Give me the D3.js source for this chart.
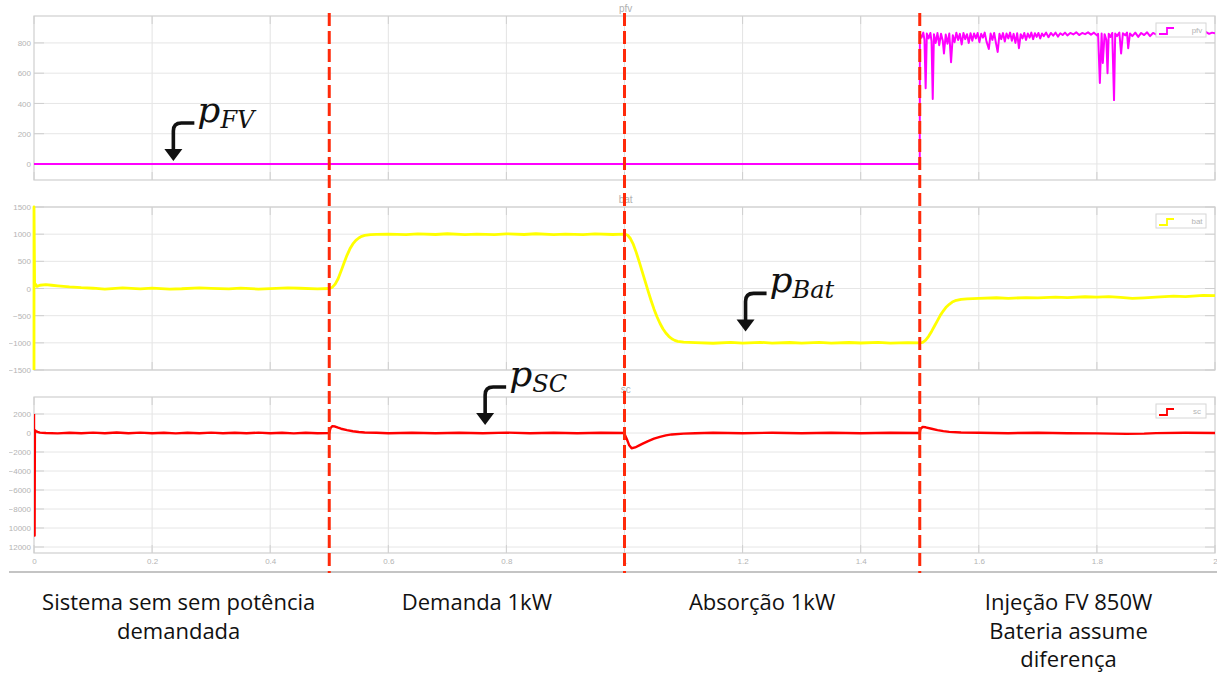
<!DOCTYPE html>
<html>
<head>
<meta charset="utf-8">
<script src="https://cdn.jsdelivr.net/npm/d3@7"></script>
<style>
  html, body { margin: 0; padding: 0; background: #fff; }
  svg { display: block; }
  .tick-lbl { font-family: "Liberation Sans", Arial, sans-serif; font-size: 8px; fill: #b4b4b4; }
  .ptitle { font-family: "Liberation Sans", Arial, sans-serif; font-size: 10px; fill: #b0b0b0; }
  .caption { font-family: "Open Sans", "Noto Sans", sans-serif; font-size: 22px; fill: #111; }
  .math { font-family: "DejaVu Serif", serif; font-style: italic; fill: #111; }
</style>
</head>
<body>
<svg id="chart" width="1217" height="673"></svg>
<script>
// ---- time axis ----
const timeTicks = [0, 0.2, 0.4, 0.6, 0.8, 1, 1.2, 1.4, 1.6, 1.8, 2];
const eventTimes = [0.5, 1.0, 1.5];

// ---- y ticks per scope ----
const pfvTicks = [0, 200, 400, 600, 800];
const batTicks = [-1500, -1000, -500, 0, 500, 1000, 1500];
const scTicks = [-12000, -10000, -8000, -6000, -4000, -2000, 0, 2000];

// ---- PV power [t (s), W] ----
const pfvSamples = [
  [0,0],[1.5,0],[1.5002,860],[1.503,835],[1.506,868],[1.508,820],[1.510,500],[1.512,862],[1.515,830],
  [1.518,866],[1.520,810],[1.522,430],[1.524,858],[1.527,800],[1.530,865],[1.533,785],[1.536,860],
  [1.539,815],[1.541,730],[1.544,855],[1.547,795],[1.550,862],[1.553,673],[1.556,850],[1.559,805],
  [1.562,868],[1.565,820],[1.568,860],[1.571,790],[1.574,866],[1.577,825],[1.580,858],[1.583,800],
  [1.586,864],[1.589,815],[1.592,862],[1.595,830],[1.598,866],[1.601,805],[1.604,860],[1.607,835],
  [1.610,868],[1.613,810],[1.617,760],[1.620,862],[1.623,820],[1.626,866],[1.629,800],[1.632,740],
  [1.635,860],[1.638,825],[1.641,865],[1.644,810],[1.647,862],[1.650,830],[1.653,868],[1.656,815],
  [1.659,860],[1.662,800],[1.665,864],[1.668,765],[1.671,858],[1.674,830],[1.677,866],[1.680,820],
  [1.683,862],[1.686,835],[1.689,868],[1.692,825],[1.695,864],[1.698,840],[1.701,866],[1.704,830],
  [1.707,862],[1.710,845],[1.714,868],[1.718,838],[1.722,866],[1.726,848],[1.730,868],[1.734,842],
  [1.738,864],[1.742,852],[1.746,868],[1.750,850],[1.755,866],[1.760,856],[1.765,870],[1.770,852],
  [1.775,866],[1.780,858],[1.785,870],[1.790,855],[1.795,868],[1.800,850],[1.802,860],[1.805,535],
  [1.808,862],[1.810,667],[1.813,858],[1.816,820],[1.818,600],[1.820,860],[1.823,840],[1.826,866],
  [1.829,422],[1.831,862],[1.834,845],[1.838,868],[1.841,730],[1.844,864],[1.848,850],[1.851,868],
  [1.853,765],[1.856,862],[1.860,845],[1.865,868],[1.870,840],[1.875,866],[1.880,852],[1.885,870],
  [1.890,845],[1.895,866],[1.900,856],[1.905,870],[1.910,850],[1.915,868],[1.920,858],[1.925,872],
  [1.930,855],[1.935,868],[1.940,860],[1.945,872],[1.950,858],[1.955,870],[1.960,862],[1.965,872],
  [1.970,858],[1.975,870],[1.980,864],[1.985,872],[1.990,860],[1.995,868],[2.0,864]
];

// ---- battery power [t (s), W] ----
const batSamples = [
  [0,-1500],[0,1500],[0.001,100],[0.005,40],[0.01,60],[0.02,70],[0.03,60],[0.04,50],[0.06,30],
  [0.08,15],[0.1,5],[0.12,-10],[0.15,10],[0.18,-8],[0.2,8],[0.23,-10],[0.25,-5],[0.28,10],[0.3,2],
  [0.33,-8],[0.35,6],[0.38,-10],[0.4,-2],[0.43,10],[0.45,5],[0.48,-6],[0.5,0],
  [0.505,20],[0.51,80],[0.515,180],[0.52,320],[0.525,470],[0.53,610],[0.535,730],[0.54,820],
  [0.545,885],[0.55,930],[0.555,960],[0.56,978],[0.57,992],[0.58,998],[0.6,1000],[0.63,990],[0.65,1006],
  [0.68,994],[0.7,1008],[0.73,992],[0.75,1002],[0.78,990],[0.8,1006],[0.83,994],[0.85,1008],[0.88,992],
  [0.9,1002],[0.93,992],[0.95,1006],[0.98,994],[1.0,1000],
  [1.005,985],[1.01,920],[1.015,810],[1.02,660],[1.025,490],[1.03,310],[1.035,130],[1.04,-50],
  [1.045,-220],[1.05,-380],[1.055,-520],[1.06,-640],[1.065,-740],[1.07,-820],[1.075,-880],
  [1.08,-925],[1.085,-955],[1.09,-972],[1.1,-988],[1.12,-996],[1.15,-1008],[1.18,-992],[1.2,-1005],
  [1.23,-990],[1.25,-1006],[1.28,-994],[1.3,-1004],[1.33,-992],[1.35,-1006],[1.38,-994],[1.4,-1003],
  [1.43,-990],[1.45,-1004],[1.48,-995],[1.5,-1000],
  [1.505,-990],[1.51,-950],[1.515,-880],[1.52,-790],[1.525,-690],[1.53,-590],[1.535,-490],
  [1.54,-410],[1.545,-340],[1.55,-290],[1.555,-250],[1.56,-225],[1.57,-200],[1.58,-190],
  [1.6,-182],[1.63,-170],[1.65,-180],[1.68,-168],[1.7,-174],[1.73,-160],[1.75,-168],[1.78,-152],
  [1.8,-158],[1.82,-148],[1.84,-165],[1.86,-182],[1.88,-172],[1.9,-160],[1.93,-140],[1.95,-150],
  [1.98,-125],[2.0,-132]
];

// ---- supercapacitor power [t (s), W] ----
const scSamples = [
  [0,2000],[0,-10800],[0.001,-10800],[0.0015,300],[0.003,200],[0.006,120],[0.01,40],[0.02,0],
  [0.04,-40],[0.06,30],[0.08,-30],[0.1,40],[0.12,-20],[0.14,50],[0.16,-30],[0.18,40],[0.2,-20],
  [0.22,30],[0.24,-40],[0.26,20],[0.28,-30],[0.3,40],[0.32,-20],[0.34,30],[0.36,-30],[0.38,40],
  [0.4,-20],[0.42,30],[0.44,-40],[0.46,20],[0.48,-30],[0.5,0],
  [0.502,500],[0.505,720],[0.51,680],[0.515,560],[0.52,450],[0.53,300],[0.54,190],[0.55,110],
  [0.56,60],[0.58,20],[0.6,-20],[0.64,30],[0.68,-30],[0.72,30],[0.76,-20],[0.8,40],[0.84,-30],
  [0.88,30],[0.92,-30],[0.96,20],[1.0,0],
  [1.001,-250],[1.004,-650],[1.008,-1300],[1.012,-1600],[1.018,-1520],[1.025,-1300],[1.03,-1150],
  [1.04,-850],[1.05,-600],[1.06,-400],[1.07,-250],[1.08,-150],[1.1,-60],[1.12,-20],[1.15,20],
  [1.2,-30],[1.25,30],[1.3,-20],[1.35,30],[1.4,-30],[1.45,20],[1.5,0],
  [1.501,400],[1.505,650],[1.51,600],[1.52,450],[1.53,300],[1.54,200],[1.55,120],[1.57,60],
  [1.6,20],[1.65,-20],[1.7,30],[1.75,-20],[1.8,-40],[1.85,-90],[1.88,-60],[1.9,-10],[1.95,20],[2.0,0]
];

// ---- captions below the scopes ----
const captions = [
  { t: 0.245, lines: ["Sistema sem sem potência", "demandada"] },
  { t: 0.75, lines: ["Demanda 1kW"] },
  { t: 1.233, lines: ["Absorção 1kW"] },
  { t: 1.752, lines: ["Injeção FV 850W", "Bateria assume", "diferença"] }
];

const svg = d3.select("#chart");
const x = d3.scaleLinear().domain([0, 2]).range([34, 1215]);

const panels = [
  { name: "pfv", top: 16, bottom: 180, domain: [-106, 978], ticks: pfvTicks, color: "#ff00ff", data: pfvSamples, width: 2 },
  { name: "bat", top: 207, bottom: 370, domain: [-1500, 1500], ticks: batTicks, color: "#ffff00", data: batSamples, width: 2.8 },
  { name: "sc",  top: 397, bottom: 553, domain: [-12630, 3790], ticks: scTicks, color: "#ff0000", data: scSamples, width: 2.4 }
];

const defs = svg.append("defs");
defs.append("clipPath").attr("id", "frameClip")
  .append("rect").attr("x", 9).attr("y", 0).attr("width", 1208).attr("height", 580);

const root = svg.append("g").attr("clip-path", "url(#frameClip)");
const x0 = x.range()[0], x1 = x.range()[1];

panels.forEach((p, i) => {
  const y = d3.scaleLinear().domain(p.domain).range([p.bottom, p.top]);
  p.y = y;
  const g = root.append("g");

  defs.append("clipPath").attr("id", "clip" + i)
    .append("rect").attr("x", x0).attr("y", p.top).attr("width", x1 - x0).attr("height", p.bottom - p.top);

  // grid
  g.append("g").selectAll("line.gx").data(timeTicks.slice(1, -1)).join("line")
    .attr("x1", d => x(d)).attr("x2", d => x(d)).attr("y1", p.top).attr("y2", p.bottom)
    .attr("stroke", "#e3e3e3").attr("stroke-width", 1);
  g.append("g").selectAll("line.gy").data(p.ticks).join("line")
    .attr("x1", x0).attr("x2", x1).attr("y1", d => y(d)).attr("y2", d => y(d))
    .attr("stroke", "#e6e6e6").attr("stroke-width", 1);

  // inner tick marks
  g.append("g").selectAll("line").data(timeTicks).join("line")
    .attr("x1", d => x(d)).attr("x2", d => x(d)).attr("y1", p.bottom).attr("y2", p.bottom - 8)
    .attr("stroke", "#cfcfcf");
  g.append("g").selectAll("line").data(timeTicks).join("line")
    .attr("x1", d => x(d)).attr("x2", d => x(d)).attr("y1", p.top).attr("y2", p.top + 8)
    .attr("stroke", "#cfcfcf");
  g.append("g").selectAll("line").data(p.ticks).join("line")
    .attr("x1", x0).attr("x2", x0 + 10).attr("y1", d => y(d)).attr("y2", d => y(d))
    .attr("stroke", "#cfcfcf");
  g.append("g").selectAll("line").data(p.ticks).join("line")
    .attr("x1", x1 - 10).attr("x2", x1).attr("y1", d => y(d)).attr("y2", d => y(d))
    .attr("stroke", "#cfcfcf");

  // frame
  g.append("rect").attr("x", x0).attr("y", p.top).attr("width", x1 - x0).attr("height", p.bottom - p.top)
    .attr("fill", "none").attr("stroke", "#cfcfcf").attr("stroke-width", 1.2);

  // y axis labels
  const ax = d3.axisLeft(y).tickValues(p.ticks).tickSize(0).tickPadding(3).tickFormat(d3.format("d"));
  const axg = g.append("g").attr("transform", `translate(${x0},0)`).call(ax);
  axg.select(".domain").remove();
  axg.selectAll("text").attr("class", "tick-lbl").attr("fill", null);

  // title
  g.append("text").attr("class", "ptitle").attr("x", x(1.002)).attr("y", p.top - 4)
    .attr("text-anchor", "middle").text(p.name);

  // trace
  g.append("path").datum(p.data)
    .attr("clip-path", i === 1 ? null : `url(#clip${i})`)
    .attr("d", d3.line().x(d => x(d[0])).y(d => y(d[1])))
    .attr("fill", "none").attr("stroke", p.color).attr("stroke-width", p.width)
    .attr("stroke-linejoin", "round");

  // legend
  const lg = g.append("g").attr("transform", `translate(1156,${p.top + 7})`);
  lg.append("rect").attr("width", 50).attr("height", 14).attr("fill", "#fff")
    .attr("stroke", "#d6d6d6").attr("stroke-width", 1);
  lg.append("path").attr("d", "M3,11 H11 V5 H18").attr("fill", "none")
    .attr("stroke", p.color).attr("stroke-width", 1.8);
  lg.append("text").attr("class", "tick-lbl").attr("x", 41).attr("y", 10)
    .attr("text-anchor", "middle").text(p.name);
});

// x axis labels under the last scope
const last = panels[2];
const xa = d3.axisBottom(x).tickValues(timeTicks).tickSize(0).tickPadding(5).tickFormat(d3.format("~g"));
const xag = root.append("g").attr("transform", `translate(0,${last.bottom})`).call(xa);
xag.select(".domain").remove();
xag.selectAll("text").attr("class", "tick-lbl").attr("fill", null);

// separator
root.append("line").attr("x1", 8).attr("x2", 1217).attr("y1", 572).attr("y2", 572)
  .attr("stroke", "#c4c4c4").attr("stroke-width", 2);

// event markers
svg.append("g").selectAll("line").data(eventTimes).join("line")
  .attr("x1", d => x(d)).attr("x2", d => x(d)).attr("y1", 13).attr("y2", 573)
  .attr("stroke", "#ff2a0a").attr("stroke-width", 3).attr("stroke-dasharray", "13,5");

// annotated arrows with symbols
function annotate(tx, ty, sub) {
  const a = svg.append("g");
  a.append("path")
    .attr("d", `M${tx + 21},${ty - 38} H${tx + 8} Q${tx},${ty - 38} ${tx},${ty - 30} V${ty - 11}`)
    .attr("fill", "none").attr("stroke", "#111").attr("stroke-width", 3.6);
  a.append("path")
    .attr("d", `M${tx - 9},${ty - 12} L${tx + 9},${ty - 12} L${tx},${ty} Z`).attr("fill", "#111");
  const t = a.append("text").attr("class", "math").attr("x", tx + 24).attr("y", ty - 39);
  t.append("tspan").attr("font-size", 36).text("p");
  t.append("tspan").attr("font-size", 24).attr("dy", 6).text(sub);
}
annotate(x(0.236), panels[0].y(0) - 3, "FV");
annotate(x(1.205), panels[1].y(-790), "Bat");
annotate(x(0.764), panels[2].y(850), "SC");

// captions
captions.forEach(c => {
  c.lines.forEach((ln, k) => {
    svg.append("text").attr("class", "caption").attr("x", x(c.t)).attr("y", 610 + k * 28.5)
      .attr("text-anchor", "middle").text(ln);
  });
});
</script>
</body>
</html>
